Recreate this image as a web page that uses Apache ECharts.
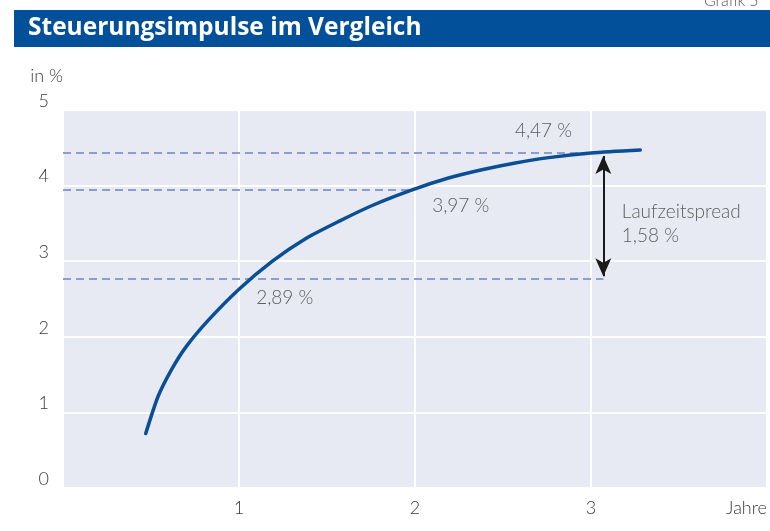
<!DOCTYPE html>
<html>
<head>
<meta charset="utf-8">
<title>Steuerungsimpulse im Vergleich</title>
<script src="https://cdn.jsdelivr.net/npm/echarts@6/dist/echarts.min.js"></script>
<style>
  html, body { margin: 0; padding: 0; background: #fff; }
  #chart { width: 770px; height: 531px; }
</style>
</head>
<body>
<div id="chart"></div>
<script>
// Zinskurve (Jahre -> Rendite in %)
const years  = [0.47, 0.54, 0.615, 0.70, 0.83, 1.0, 1.19, 1.38, 1.57, 1.76, 1.98, 2.19, 2.38, 2.57, 2.76, 3.0, 3.28];
const yields = [0.72, 1.21, 1.56, 1.87, 2.23, 2.63, 3.00, 3.30, 3.53, 3.74, 3.94, 4.10, 4.21, 4.30, 4.37, 4.43, 4.47];

// Hilfslinien (so wie gezeichnet) und ihre Beschriftungen
const levelValues = [2.77, 3.95, 4.43];
const levelEnds   = [3.07, 1.99, 2.93];
const levelLabels = ['2,89 %', '3,97 %', '4,47 %'];

const spreadLabel = ['Laufzeitspread', '1,58 %'];
const xTicks = ['1', '2', '3', 'Jahre'];
const yTicks = ['0', '1', '2', '3', '4', '5'];

const labelFont = 'Lato, "Open Sans", sans-serif';
const textColor = '#3a3a3a';

const chart = echarts.init(document.getElementById('chart'));

// Beschriftungspunkte (Lage im Koordinatensystem)
const annoAt = [[1.26, 2.52], [2.26, 3.73], [2.73, 4.72]];

chart.setOption({
  animation: false,
  title: {
    text: 'Steuerungsimpulse im Vergleich',
    left: 23,
    top: 11,
    textStyle: { color: '#fff', fontSize: 24.5, fontWeight: 'bold', fontFamily: '"Open Sans", Lato, sans-serif' }
  },
  graphic: [
    { type: 'rect', z: -1, shape: { x: 14, y: 10, width: 756, height: 37 }, style: { fill: '#02509A' } },
    { type: 'text', left: 704, top: -7, style: { text: 'Grafik 5', fill: '#555', font: '300 16px ' + labelFont } }
  ],
  grid: {
    left: 63, right: 0, top: 110, bottom: 43,
    show: true, backgroundColor: '#E7E9F3', borderWidth: 0
  },
  xAxis: {
    type: 'value', min: 0, max: 4, interval: 1,
    axisLine: { show: false }, axisTick: { show: false },
    splitLine: { lineStyle: { color: '#fff', width: 2 } },
    axisLabel: {
      showMinLabel: false, alignMaxLabel: 'right', margin: 11,
      color: textColor, fontSize: 18, fontWeight: 300, fontFamily: labelFont,
      formatter: v => xTicks[Math.round(v) - 1]
    }
  },
  yAxis: {
    type: 'value', min: 0, max: 5, interval: 1,
    name: 'in %', nameLocation: 'end', nameGap: 25,
    nameTextStyle: { align: 'right', color: textColor, fontSize: 18, fontWeight: 300, fontFamily: labelFont },
    axisLine: { show: false }, axisTick: { show: false },
    splitLine: { lineStyle: { color: '#fff', width: 2 } },
    axisLabel: {
      margin: 14, verticalAlign: 'bottom',
      color: textColor, fontSize: 18, fontWeight: 300, fontFamily: labelFont,
      formatter: v => yTicks[Math.round(v)]
    }
  },
  series: [
    {
      type: 'line',
      data: years.map((x, i) => [x, yields[i]]),
      smooth: 0.25,
      showSymbol: false,
      z: 5,
      lineStyle: { color: '#0A4F96', width: 3.5, cap: 'round' },
      markLine: {
        silent: true,
        symbol: 'none',
        label: { show: false },
        lineStyle: { color: '#8C9ED0', width: 2, type: [8, 5] },
        data: levelValues.map((v, i) => [{ coord: [0, v] }, { coord: [levelEnds[i], v] }])
      }
    },
    {
      // Doppelpfeil Laufzeitspread
      type: 'line',
      data: [],
      markLine: {
        silent: true,
        symbol: ['arrow', 'arrow'],
        symbolSize: [12, 18],
        label: { show: false },
        lineStyle: { color: '#1a1a1a', width: 2, type: 'solid' },
        data: [[{ coord: [3.07, levelValues[0] + 0.03] }, { coord: [3.07, levelValues[2] - 0.04] }]]
      }
    },
    {
      type: 'scatter',
      symbolSize: 0,
      silent: true,
      data: levelLabels.map((t, i) => ({ value: annoAt[i], name: t })),
      label: {
        show: true, position: 'inside',
        formatter: p => p.name,
        color: textColor, fontSize: 19, fontWeight: 300, fontFamily: labelFont
      }
    },
    {
      type: 'scatter',
      symbolSize: 0,
      silent: true,
      data: [{ value: [3.175, 3.49] }],
      label: {
        show: true, position: 'inside', align: 'left', lineHeight: 24,
        formatter: () => spreadLabel.join('\n'),
        color: textColor, fontSize: 19, fontWeight: 300, fontFamily: labelFont
      }
    }
  ]
});
</script>
</body>
</html>
